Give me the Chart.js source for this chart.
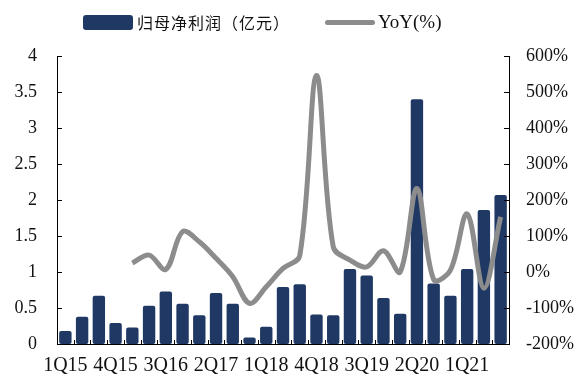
<!DOCTYPE html>
<html>
<head>
<meta charset="utf-8">
<script src="https://cdn.jsdelivr.net/npm/chart.js@4.4.0/dist/chart.umd.min.js"></script>
<style>
  html, body { margin: 0; padding: 0; background: #fff; }
  #wrap { position: relative; width: 583px; height: 376px; }
  #legend { position: absolute; top: 9px; left: 0; width: 583px; height: 26px; }
  .item { position: absolute; top: 0; display: flex; align-items: center; height: 26px; }
  .swatch-bar { width: 50px; height: 15px; background: #1f3864; border-radius: 3px; margin-right: 4px; }
  .swatch-line { width: 50px; height: 5px; background: #8c8c8c; border-radius: 3px; margin-right: 3px; }
  .cn { font-family: "Noto Sans CJK SC", sans-serif; font-size: 16px; letter-spacing: 1px; color: #111; }
  .en { font-family: "Liberation Serif", serif; font-size: 19px; color: #111; }
</style>
</head>
<body>
<div id="wrap">
  <canvas id="chart" width="583" height="376"></canvas>
  <div id="legend">
    <div class="item" style="left:83px"><span class="swatch-bar"></span><span class="cn">归母净利润（亿元）</span></div>
    <div class="item" style="left:325px"><span class="swatch-line"></span><span class="en">YoY(%)</span></div>
  </div>
</div>
<script>
// quarters 1Q15 .. 3Q21
const quarters = ['1Q15','2Q15','3Q15','4Q15','1Q16','2Q16','3Q16','4Q16','1Q17','2Q17','3Q17','4Q17',
  '1Q18','2Q18','3Q18','4Q18','1Q19','2Q19','3Q19','4Q19','1Q20','2Q20','3Q20','4Q20','1Q21','2Q21','3Q21'];

// 归母净利润 (亿元)
const netProfit = [0.18, 0.38, 0.67, 0.29, 0.23, 0.53, 0.73, 0.56, 0.40, 0.71, 0.56, 0.09,
  0.24, 0.79, 0.83, 0.41, 0.40, 1.04, 0.95, 0.64, 0.42, 3.40, 0.84, 0.67, 1.04, 1.86, 2.07];

// YoY (%)
const yoy = [null, null, null, null, 25, 47, 7, 112, 84, 38, -13, -87,
  -41, 10, 45, 546, 70, 33, 14, 59, 0, 232, -21, 5, 161, -45, 153];

const leftTicks = [0, 0.5, 1, 1.5, 2, 2.5, 3, 3.5, 4];
const rightTicks = [-200, -100, 0, 100, 200, 300, 400, 500, 600];

// small tick marks pointing into the plot
const innerTicks = {
  id: 'innerTicks',
  afterDraw(chart) {
    const ctx = chart.ctx;
    const a = chart.chartArea;
    const y = chart.scales.y, y1 = chart.scales.y1;
    ctx.save();
    ctx.strokeStyle = '#000';
    ctx.lineWidth = 1;
    ctx.beginPath();
    leftTicks.forEach(v => {
      const p = Math.round(y.getPixelForValue(v)) + 0.5;
      ctx.moveTo(a.left, p); ctx.lineTo(a.left + 5, p);
    });
    rightTicks.forEach(v => {
      const p = Math.round(y1.getPixelForValue(v)) + 0.5;
      ctx.moveTo(a.right, p); ctx.lineTo(a.right - 5, p);
    });
    const step = (a.right - a.left) / quarters.length;
    for (let i = 0; i <= quarters.length; i++) {
      const px = Math.round(a.left + i * step) + 0.5;
      ctx.moveTo(px, a.bottom); ctx.lineTo(px, a.bottom - 4);
    }
    ctx.stroke();
    ctx.restore();
  }
};

const tickFont = { family: 'Liberation Serif', size: 18 };

new Chart(document.getElementById('chart'), {
  data: {
    labels: quarters,
    datasets: [
      {
        type: 'line',
        label: 'YoY(%)',
        data: yoy,
        yAxisID: 'y1',
        borderColor: '#8c8c8c',
        borderWidth: 5,
        pointRadius: 0,
        tension: 0.35,
        order: 0
      },
      {
        type: 'bar',
        label: '归母净利润（亿元）',
        data: netProfit,
        yAxisID: 'y',
        backgroundColor: '#1f3864',
        borderRadius: 2,
        borderSkipped: false,
        barPercentage: 0.74,
        categoryPercentage: 1,
        order: 1
      }
    ]
  },
  options: {
    responsive: false,
    animation: false,
    layout: { padding: { top: 56, left: 0, right: 0, bottom: 0 } },
    plugins: { legend: { display: false }, tooltip: { enabled: false } },
    scales: {
      x: {
        grid: { display: false, drawTicks: false },
        border: { display: true, color: '#000', width: 1 },
        ticks: {
          color: '#111', font: { family: 'Liberation Serif', size: 20 }, autoSkip: false, maxRotation: 0, padding: 10,
          callback: (v, i) => (i % 3 === 0 ? quarters[i] : '')
        },
        afterFit: s => { s.height = 32; }
      },
      y: {
        position: 'left',
        min: 0, max: 4,
        grid: { display: false, drawTicks: false },
        border: { display: true, color: '#000', width: 1 },
        afterBuildTicks: s => { s.ticks = leftTicks.map(v => ({ value: v })); },
        ticks: { color: '#111', font: tickFont, padding: 20, callback: v => String(v) },
        afterFit: s => { s.width = 57; }
      },
      y1: {
        position: 'right',
        min: -200, max: 600,
        grid: { display: false, drawTicks: false },
        border: { display: true, color: '#000', width: 1 },
        afterBuildTicks: s => { s.ticks = rightTicks.map(v => ({ value: v })); },
        ticks: { color: '#111', font: tickFont, padding: 17, callback: v => v + '%' },
        afterFit: s => { s.width = 74; }
      }
    }
  },
  plugins: [innerTicks]
});
</script>
</body>
</html>
